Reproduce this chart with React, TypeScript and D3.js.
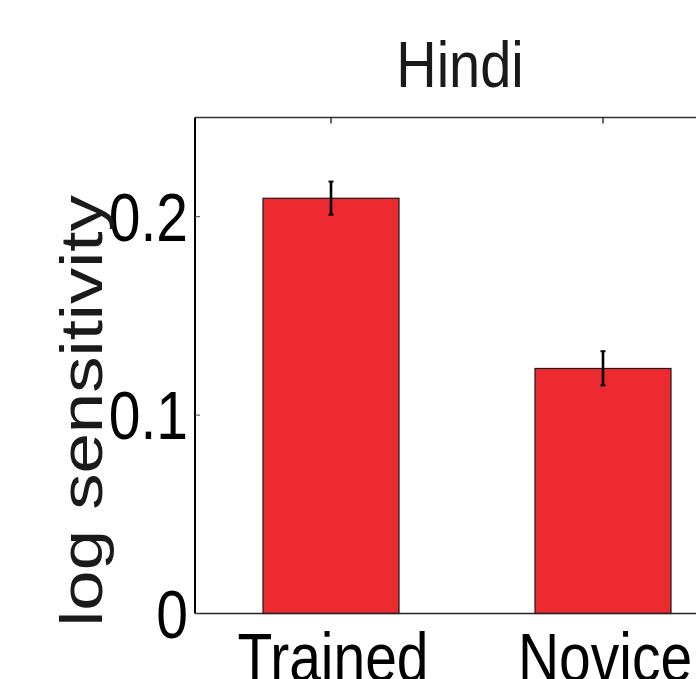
import React from 'react';
import * as d3 from 'd3';

const categories = ['Trained', 'Novice'];
const means = [0.2093, 0.1235];
const errLow = [0.201, 0.115];
const errHigh = [0.2177, 0.1322];
const yTicks = [0, 0.1, 0.2];
const yTickLabels = ['0', '0.1', '0.2'];
const title = 'Hindi';
const yLabel = 'log sensitivity';

const W = 696;
const H = 679;
const left = 195;
const top = 117.5;
const bottom = 613.5;
const font = '"Liberation Sans", Arial, Helvetica, sans-serif';
const stretch = 1.19; // text in the figure is a bit taller than wide

const App: React.FC = () => {
  // one category per unit, axis starts half a unit before the first bar
  const x = d3.scaleLinear().domain([0.5, 2.5]).range([left, left + 544]);
  const y = d3.scaleLinear().domain([0, 0.25]).range([bottom, top]);
  const barW = x(1.25) - x(0.75);
  const right = x(2.5);

  return (
    <svg width={W} height={H} style={{ position: 'absolute', left: 0, top: 0, background: '#fff' }}>
      {/* bars */}
      {categories.map((c, i) => (
        <rect
          key={c}
          x={x(i + 1) - barW / 2}
          y={y(means[i])}
          width={barW}
          height={y(0) - y(means[i])}
          fill="#ED2A2F"
          stroke="#1a1a1a"
          strokeWidth={1.2}
        />
      ))}

      {/* error bars */}
      {categories.map((c, i) => (
        <g key={c + '-err'} stroke="#000" fill="none">
          <line x1={x(i + 1)} x2={x(i + 1)} y1={y(errLow[i])} y2={y(errHigh[i])} strokeWidth={2.6} />
          <line x1={x(i + 1) - 2.5} x2={x(i + 1) + 2.5} y1={y(errLow[i])} y2={y(errLow[i])} strokeWidth={2} />
          <line x1={x(i + 1) - 2.5} x2={x(i + 1) + 2.5} y1={y(errHigh[i])} y2={y(errHigh[i])} strokeWidth={2} />
        </g>
      ))}

      {/* frame */}
      <line x1={left} x2={right} y1={top} y2={top} stroke="#333" strokeWidth={1.6} />
      <line x1={left} x2={right} y1={bottom} y2={bottom} stroke="#222" strokeWidth={1.6} />
      <line x1={left} x2={left} y1={top} y2={bottom} stroke="#000" strokeWidth={2} />

      {/* y ticks (inward) */}
      {yTicks.map(t => (
        <line key={'yt' + t} x1={left} x2={left + 5} y1={y(t)} y2={y(t)} stroke="#444" strokeWidth={1} />
      ))}
      {/* top x ticks (inward) */}
      {categories.map((c, i) => (
        <line key={'xt' + c} x1={x(i + 1)} x2={x(i + 1)} y1={top} y2={top + 6} stroke="#222" strokeWidth={1.4} />
      ))}

      {/* y tick labels */}
      {yTicks.map((t, i) => (
        <text
          key={'yl' + t}
          transform={`translate(188,${y(t)}) scale(1,${stretch})`}
          y={20.4}
          textAnchor="end"
          fontFamily={font}
          fontSize={57}
          fill="#000"
        >
          {yTickLabels[i]}
        </text>
      ))}

      {/* x tick labels */}
      {categories.map((c, i) => (
        <text
          key={'xl' + c}
          transform={`translate(${x(i + 1) + 2},681) scale(1,${stretch})`}
          textAnchor="middle"
          fontFamily={font}
          fontSize={57}
          fill="#000"
        >
          {c}
        </text>
      ))}

      {/* title */}
      <text
        transform={`translate(460,86.7) scale(1,1.15)`}
        textAnchor="middle"
        fontFamily={font}
        fontSize={56}
        fill="#1a1a1a"
      >
        {title}
      </text>

      {/* y label */}
      <text
        transform={`translate(102,411) scale(1,1.21) rotate(-90)`}
        textAnchor="middle"
        fontFamily={font}
        fontSize={60}
        fill="#1a1a1a"
      >
        {yLabel}
      </text>
    </svg>
  );
};

export default App;
